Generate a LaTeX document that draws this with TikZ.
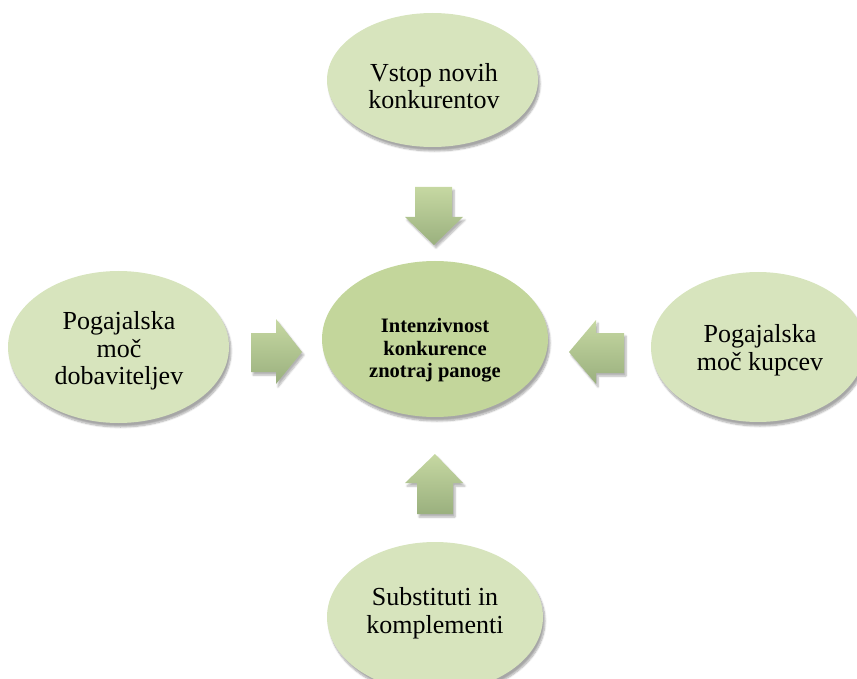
\documentclass[tikz,border=0pt]{standalone}
\usepackage{fontspec}
\setmainfont{Liberation Serif}
\usetikzlibrary{shapes.geometric,shadows.blur}

\definecolor{outerfill}{HTML}{D7E4BD}
\definecolor{innerfill}{HTML}{C3D69B}
\definecolor{arrowtop}{HTML}{C6D8A2}
\definecolor{arrowbot}{HTML}{9AB07E}

\tikzset{
  force/.style={ellipse, fill=outerfill, inner sep=0pt,
    blur shadow={shadow xshift=2pt, shadow yshift=-4pt, shadow opacity=35, shadow blur steps=8}},
  rivalry/.style={force, fill=innerfill},
  forcetext/.style={align=center, inner sep=0pt, font=\fontsize{26}{27.5}\selectfont},
  rivalrytext/.style={align=center, inner sep=0pt, font=\bfseries\fontsize{20.5}{22.5}\selectfont},
  blockarrow/.style={top color=arrowtop, bottom color=arrowbot, draw=none,
    blur shadow={shadow xshift=2pt, shadow yshift=-3pt, shadow opacity=30, shadow blur steps=6}},
}

\begin{document}
\begin{tikzpicture}[x=1pt,y=-1pt]
\useasboundingbox (0,0) rectangle (857,679);

% the five forces
\node[force, minimum width=211pt, minimum height=134pt] (entry) at (432.5,80) {};
\node[force, minimum width=221pt, minimum height=152pt] (suppliers) at (118.5,347) {};
\node[rivalry, minimum width=226pt, minimum height=156pt] (rivalry) at (435,339) {};
\node[force, minimum width=214pt, minimum height=150pt] (buyers) at (758,347) {};
\node[force, minimum width=216pt, minimum height=150pt] (substitutes) at (435,617) {};

% their labels
\node[forcetext] (entry-text) at (434,86) {Vstop novih\\konkurentov};
\node[forcetext] (suppliers-text) at (119,351) {Pogajalska\\moč\\dobaviteljev};
\node[rivalrytext] (rivalry-text) at (435,350.5) {Intenzivnost\\konkurence\\znotraj panoge};
\node[forcetext] (buyers-text) at (760,350) {Pogajalska\\moč kupcev};
\node[forcetext] (substitutes-text) at (435,613) {Substituti in\\komplementi};

% block arrows pointing at the central ellipse
\path[blockarrow] (415,187) -- (452,187) -- (452,217) -- (463,217) -- (434,245)
  -- (405,217) -- (415,217) -- cycle;
\path[blockarrow] (251,333) -- (276,333) -- (276,319) -- (302,352) -- (276,384)
  -- (276,372) -- (251,372) -- cycle;
\path[blockarrow] (624,333) -- (596,333) -- (596,320) -- (569,352) -- (596,384)
  -- (596,373) -- (624,373) -- cycle;
\path[blockarrow] (417,514) -- (453,514) -- (453,483) -- (463,483) -- (435,454)
  -- (405,483) -- (417,483) -- cycle;
\end{tikzpicture}
\end{document}
